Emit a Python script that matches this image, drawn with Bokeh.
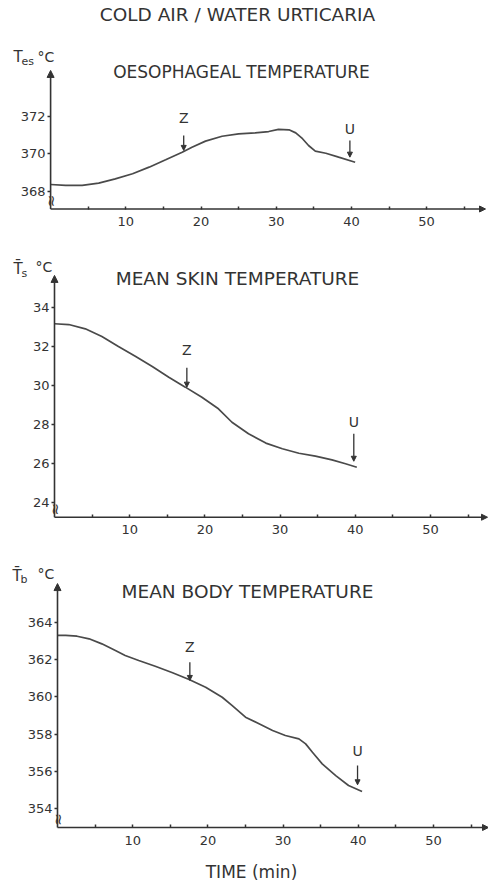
import numpy as np
from bokeh.plotting import figure
from bokeh.layouts import column
from bokeh.models import Range1d, FixedTicker, Label, Arrow, NormalHead, ColumnDataSource
from bokeh.embed import file_html
from bokeh.resources import INLINE
from bokeh.core.properties import value

# ---------------- data ----------------
main_title = "COLD AIR / WATER URTICARIA"
x_label = "TIME (min)"
x_ticks = [5, 10, 15, 20, 25, 30, 35, 40, 45, 50, 55]
x_tick_labels = ["", "10", "", "20", "", "30", "", "40", "", "50", ""]
marker_text = ["Z", "U"]

# Oesophageal temperature (°C)
tes_title = "OESOPHAGEAL TEMPERATURE"
tes_time = [0, 2.0, 4.2, 6.4, 8.6, 10.9, 13.1, 15.3, 17.5, 18.8, 20.6, 22.8, 25.0,
            27.2, 29.0, 30.3, 31.7, 32.6, 33.5, 34.3, 35.2, 36.6, 38.3, 40.5]
tes_temp = [36.837, 36.832, 36.832, 36.844, 36.867, 36.894, 36.929, 36.968, 37.008,
            37.035, 37.067, 37.093, 37.106, 37.111, 37.118, 37.129, 37.127, 37.111,
            37.080, 37.044, 37.014, 37.003, 36.982, 36.955]
tes_ticks = [36.8, 37.0, 37.2]
tes_tick_labels = ["368", "370", "372"]
tes_marker_time = [17.7, 39.8]
tes_marker_tip = [37.018, 36.982]
tes_marker_tail = [37.097, 37.071]
tes_marker_label = [37.192, 37.133]

# Mean skin temperature (°C)
ts_title = "MEAN SKIN TEMPERATURE"
ts_time = [0, 1.9, 4.1, 6.3, 8.5, 10.8, 13.0, 15.2, 17.4, 19.6, 21.8, 23.6, 25.8,
           28.1, 30.3, 32.5, 34.7, 36.9, 38.7, 40.2]
ts_temp = [33.15, 33.11, 32.89, 32.50, 31.98, 31.47, 30.96, 30.41, 29.90, 29.38,
           28.79, 28.10, 27.51, 27.03, 26.74, 26.51, 26.36, 26.17, 25.97, 25.79]
ts_ticks = [24, 26, 28, 30, 32, 34]
ts_tick_labels = ["24", "26", "28", "30", "32", "34"]
ts_marker_time = [17.6, 39.8]
ts_marker_tip = [29.90, 26.10]
ts_marker_tail = [30.89, 27.51]
ts_marker_label = [31.78, 28.10]

# Mean body temperature (°C)
tb_title = "MEAN BODY TEMPERATURE"
tb_time = [0, 1.1, 2.6, 4.2, 5.9, 7.7, 9.0, 10.8, 13.0, 15.3, 17.5, 19.7, 21.9,
           23.2, 25.0, 26.8, 28.6, 30.3, 32.1, 33.0, 33.9, 35.2, 37.0, 38.7, 40.5]
tb_temp = [36.329, 36.329, 36.325, 36.311, 36.284, 36.248, 36.222, 36.195, 36.164,
           36.129, 36.093, 36.052, 35.998, 35.954, 35.891, 35.856, 35.820, 35.793,
           35.775, 35.748, 35.703, 35.641, 35.578, 35.525, 35.493]
tb_ticks = [35.4, 35.6, 35.8, 36.0, 36.2, 36.4]
tb_tick_labels = ["354", "356", "358", "360", "362", "364"]
tb_marker_time = [17.6, 39.9]
tb_marker_tip = [36.088, 35.529]
tb_marker_tail = [36.186, 35.632]
tb_marker_label = [36.266, 35.712]

# ---------------- style ----------------
FONT = "DejaVu Sans"
INK = "#333333"
CURVE = "#4a4a4a"
PX_PER_MIN = 7.52
W = 488


def panel(height, origin_px, axis_end_px, y_range, y_axis_bottom, y_top,
          ticks, tick_labels, t, v, m_t, m_tip, m_tail, m_lab):
    x0 = -origin_px / PX_PER_MIN
    x1 = (W - origin_px) / PX_PER_MIN
    x_arrow = (axis_end_px - origin_px) / PX_PER_MIN
    p = figure(width=W, height=height, output_backend="svg", toolbar_location=None,
               x_range=Range1d(x0, x1), y_range=Range1d(*y_range),
               min_border_left=0, min_border_right=0, min_border_top=0,
               min_border_bottom=0)
    p.outline_line_color = None
    p.grid.visible = False
    p.background_fill_color = "white"
    p.border_fill_color = "white"

    xa = p.xaxis[0]
    xa.fixed_location = y_axis_bottom
    xa.ticker = FixedTicker(ticks=x_ticks)
    xa.major_label_overrides = {tk: lb for tk, lb in zip(x_ticks, x_tick_labels)}
    xa.axis_line_color = None
    xa.major_tick_in = 3
    xa.major_tick_out = 0
    xa.major_tick_line_width = 1.5
    xa.major_tick_line_color = INK
    xa.minor_tick_line_color = None
    xa.major_label_standoff = 8
    xa.major_label_text_font = FONT
    xa.major_label_text_font_size = "13px"
    xa.major_label_text_color = INK

    ya = p.yaxis[0]
    ya.fixed_location = 0
    ya.ticker = FixedTicker(ticks=ticks)
    ya.major_label_overrides = {tk: lb for tk, lb in zip(ticks, tick_labels)}
    ya.axis_line_color = None
    ya.major_tick_in = 0
    ya.major_tick_out = 3
    ya.major_tick_line_width = 1.3
    ya.major_tick_line_color = INK
    ya.minor_tick_line_color = None
    ya.major_label_standoff = 2
    ya.major_label_text_font = FONT
    ya.major_label_text_font_size = "13px"
    ya.major_label_text_color = INK

    # axes drawn as arrows
    p.add_layout(Arrow(x_start=0, y_start=y_axis_bottom, x_end=0, y_end=y_top,
                       line_width=1.6, line_color=INK,
                       end=NormalHead(size=7, fill_color=INK, line_color=INK)))
    p.add_layout(Arrow(x_start=0, y_start=y_axis_bottom, x_end=x_arrow, y_end=y_axis_bottom,
                       line_width=1.6, line_color=INK,
                       end=NormalHead(size=6, fill_color=INK, line_color=INK)))
    # axis break mark
    p.text(x=[0], y=[y_axis_bottom], text=["≈"], angle=np.pi / 2, y_offset=-8,
           text_align="center", text_baseline="middle", text_font=value(FONT),
           text_font_size="15px", text_color=INK)

    p.line(t, v, line_width=1.7, line_color=CURVE)

    src = ColumnDataSource(dict(x=m_t, tip=m_tip, tail=m_tail, lab=m_lab, txt=marker_text))
    p.add_layout(Arrow(x_start="x", y_start="tail", x_end="x", y_end="tip", source=src,
                       line_width=1.3, line_color=INK,
                       end=NormalHead(size=5, fill_color=INK, line_color=INK)))
    p.text(x="x", y="lab", text="txt", source=src, text_align="center",
           text_baseline="middle", text_font=value(FONT), text_font_size="14px",
           text_color=INK)
    return p


def label(p, x, y, text, size, align="center"):
    # screen units: x from left edge, y from bottom edge of the panel
    p.add_layout(Label(x=x, y=y, x_units="screen", y_units="screen", text=text,
                       text_font=FONT, text_font_size=size, text_color=INK,
                       text_align=align, text_baseline="middle"))


# panel 1 (canvas rows 0-240)
p1 = panel(240, 50.1, 485, (36.540, 37.813), 36.707, 37.442, tes_ticks, tes_tick_labels,
           tes_time, tes_temp, tes_marker_time, tes_marker_tip, tes_marker_tail,
           tes_marker_label)
label(p1, 237, 226, main_title, "18.5px")
label(p1, 241, 169, tes_title, "17px")
label(p1, 13, 184, "T", "15px", "left")
label(p1, 21, 179, "es", "11px", "left")
label(p1, 37, 184, "°C", "14px", "left")

# panel 2 (canvas rows 240-545)
p2 = panel(305, 54, 487, (21.78, 37.42), 23.23, 35.63, ts_ticks, ts_tick_labels,
           ts_time, ts_temp, ts_marker_time, ts_marker_tip, ts_marker_tail,
           ts_marker_label)
label(p2, 237, 267, ts_title, "18.5px")
label(p2, 13, 277, "T\u0304", "15px", "left")
label(p2, 21, 272, "s", "11px", "left")
label(p2, 35, 279, "°C", "14px", "left")

# panel 3 (canvas rows 545-883)
p3 = panel(338, 57, 488, (35.000, 36.811), 35.300, 36.607, tb_ticks, tb_tick_labels,
           tb_time, tb_temp, tb_marker_time, tb_marker_tip, tb_marker_tail,
           tb_marker_label)
label(p3, 247, 292, tb_title, "18.5px")
label(p3, 251, 12, x_label, "17px")
label(p3, 12, 308, "T\u0304", "15px", "left")
label(p3, 20, 304, "b", "11px", "left")
label(p3, 37, 310, "°C", "14px", "left")

layout = column(p1, p2, p3, spacing=0)
open("out.html", "w").write(file_html(layout, INLINE))
